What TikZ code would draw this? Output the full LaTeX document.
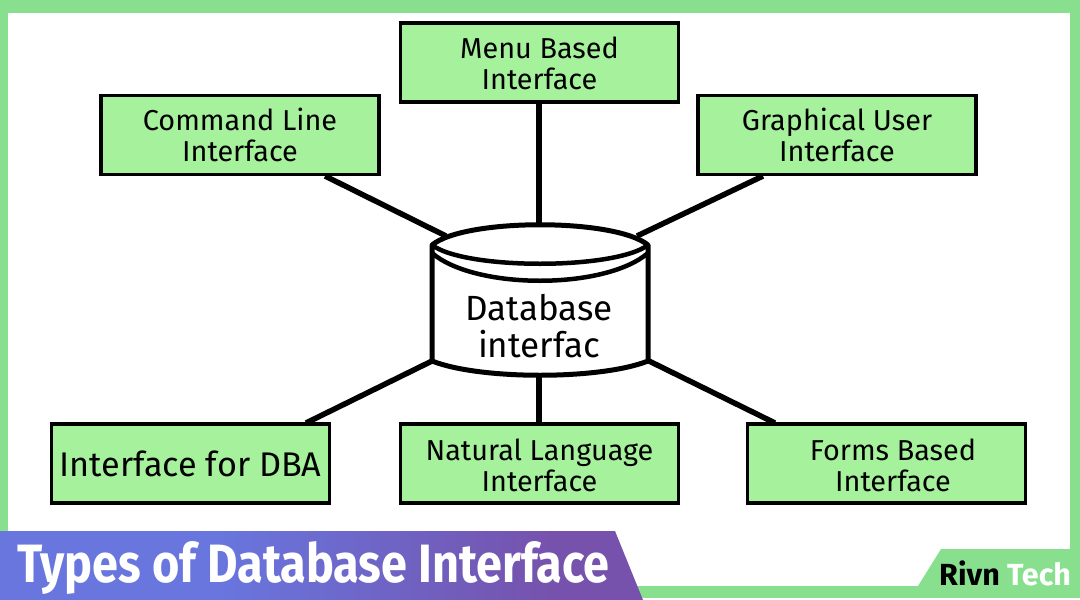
\documentclass[tikz,border=0pt]{standalone}
\usepackage{fontspec}
\setmainfont{Fira Sans}
\definecolor{frameg}{HTML}{88E08F}
\definecolor{boxg}{HTML}{A6F19B}
\definecolor{tblue}{HTML}{6876DE}
\definecolor{tpurp}{HTML}{7652AC}
\pgfdeclarehorizontalshading{titleshade}{100bp}{color(0bp)=(tblue);color(42bp)=(tblue);color(68bp)=(tpurp);color(100bp)=(tpurp)}
\tikzset{
 x=1pt,y=-1pt,
 ifbox/.style={draw=black,line width=3.5pt,fill=boxg,minimum width=278pt,minimum height=79pt,inner sep=0pt,align=center,font=\fontsize{28.8}{31}\selectfont},
 link/.style={draw=black,line width=5.5pt},
 cyl/.style={draw=black,line width=5pt,line join=round}
}
\newcommand{\strutdown}[1]{\rule{0pt}{#1pt}}
\begin{document}
\begin{tikzpicture}
\useasboundingbox (0,0) rectangle (1080,600);
\fill[frameg] (0,0) rectangle (1080,598);
\fill[white] (0,598) rectangle (1080,600);
\fill[white] (8,13) rectangle (1070,586);
\fill[frameg] (918,586) -- (941,549) -- (1070,549) -- (1070,586) -- cycle;

\node[ifbox] (menu) at (539.5,62.5) {\strutdown{24}Menu Based\\Interface};
\node[ifbox] (cmd) at (240,135) {Command Line\\Interface};
\node[ifbox] (gui) at (837,135) {Graphical User\\Interface};
\node[ifbox,font=\fontsize{34.2}{38}\selectfont] (dba) at (190.5,463.5) {Interface for DBA};
\node[ifbox] (nat) at (539.5,463.5) {\strutdown{26}Natural Language\\Interface};
\node[ifbox] (frm) at (886.5,463.5) {\strutdown{26}\hspace*{13pt}Forms Based\\\hspace*{13pt}Interface};

\coordinate (cmdout) at (325,176);
\coordinate (guiout) at (763,176);
\coordinate (dbaout) at (306,423);
\coordinate (frmout) at (775,423);
\coordinate (cyltl) at (446,236);
\coordinate (cyltr) at (637,236);
\coordinate (cylbl) at (432,361);
\coordinate (cylbr) at (649,361);
\coordinate (cyltop) at (539,226);
\coordinate (cylbot) at (539,376);

\path[link] (menu.south -| cyltop) -- (cyltop);
\path[link] (cmdout) -- (cyltl);
\path[link] (guiout) -- (cyltr);
\path[link] (dbaout) -- (cylbl);
\path[link] (frmout) -- (cylbr);
\path[link] (nat.north -| cylbot) -- (cylbot);

\path[cyl,fill=white] (432,245) .. controls (465,218) and (615,218) .. (648,245)
  -- (648,361) .. controls (600,380) and (480,380) .. (432,361) -- cycle;
\path[cyl,line width=4.5pt] (432,245) .. controls (465,270) and (615,270) .. (648,245);
\path[cyl,line width=4.5pt] (432,253) .. controls (475,290) and (605,290) .. (648,253);

\node[align=center,font=\fontsize{35}{37}\selectfont,inner sep=0pt] (dbtext) at (539,326) {Database\\interfac};

\shade[shading=titleshade] (0,531) -- (615,531) -- (643,600) -- (0,600) -- cycle;
\node[anchor=base west,inner sep=0pt,text=white,font=\bfseries\fontsize{54}{54}\selectfont,xscale=.867,transform shape] (title) at (17,582) {Types of Database Interface};
\node[anchor=base west,inner sep=0pt,font=\bfseries\fontsize{30.5}{30}\selectfont] (logo) at (939,585) {Rivn \textcolor{white}{Tech}};
\end{tikzpicture}
\end{document}
